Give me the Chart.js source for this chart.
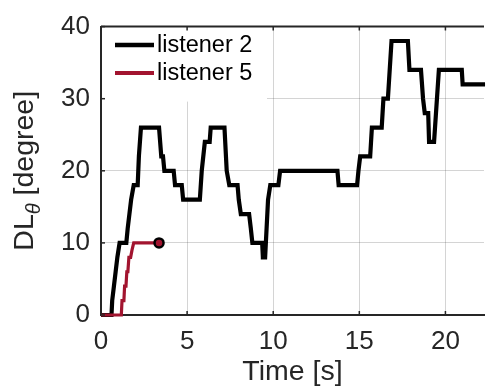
<!DOCTYPE html>
<html>
<head>
<meta charset="utf-8">
<script src="https://cdn.jsdelivr.net/npm/chart.js@4/dist/chart.umd.min.js"></script>
<style>
  html, body { margin: 0; padding: 0; background: #fff; overflow: hidden; }
  #wrap { width: 491px; height: 389px; position: relative; }
</style>
</head>
<body>
<div id="wrap"><canvas id="c" width="491" height="389"></canvas></div>
<script>
// ---- data ----
const seriesNames = ['listener 2', 'listener 5'];
const timeL2 = [0, 0.61, 0.65, 0.75, 0.85, 0.95, 1.08, 1.47, 1.55, 1.65, 1.75, 1.9, 2.13, 2.2, 2.32, 3.37, 3.5, 3.6, 3.68, 4.22, 4.3, 4.69, 4.77, 5.74, 5.85, 6.03, 6.31, 6.37, 7.17, 7.3, 7.45, 7.93, 8.0, 8.12, 8.6, 8.7, 8.79, 9.36, 9.4, 9.53, 9.7, 9.83, 10.3, 10.4, 13.73, 13.8, 14.87, 14.95, 15.05, 15.63, 15.73, 16.3, 16.4, 16.66, 16.87, 17.82, 17.91, 18.58, 18.7, 18.8, 19.0, 19.05, 19.34, 19.62, 20.95, 21.0, 22.3];
const valL2  = [0, 0, 2, 4, 6, 8, 10, 10, 12, 14, 16, 18, 18, 22, 26, 26, 22, 22, 20, 20, 18, 18, 16, 16, 20, 24, 24, 26, 26, 20, 18, 18, 16, 14, 14, 12, 10, 10, 8, 8, 16, 18, 18, 20, 20, 18, 18, 20, 22, 22, 26, 26, 30, 30, 38, 38, 34, 34, 30, 28, 28, 24, 24, 34, 34, 32, 32];
const timeL5 = [0, 1.18, 1.22, 1.33, 1.37, 1.45, 1.5, 1.56, 1.62, 1.72, 1.8, 1.9, 3.37];
const valL5  = [0, 0, 2, 2, 4, 4, 6, 6, 8, 8, 9, 10, 10];
const xTicks = [0, 5, 10, 15, 20];
const yTicks = [0, 10, 20, 30, 40];

const FONT = "'Liberation Sans', Arial, Helvetica, sans-serif";
const AX = '#262626';
const BLACK = '#000000';
const RED = '#a2142f';

const l2 = timeL2.map((t, i) => ({ x: t, y: valL2[i] }));
const l5 = timeL5.map((t, i) => ({ x: t, y: valL5[i] }));
const l5radius = l5.map((p, i) => i === l5.length - 1 ? 4.5 : 0);

const framePlugin = {
  id: 'frame',
  beforeDatasetsDraw(chart) {
    const { ctx, chartArea: a } = chart;
    ctx.save();
    ctx.fillStyle = '#ffffff';
    ctx.fillRect(a.left + 1, a.top, 165, 75);
    ctx.restore();
  },
  afterDatasetsDraw(chart) {
    const { ctx, chartArea: a, scales } = chart;
    ctx.save();
    ctx.strokeStyle = AX;
    ctx.lineWidth = 2;
    ctx.beginPath();
    ctx.moveTo(a.left, a.top);
    ctx.lineTo(a.right, a.top);
    ctx.stroke();
    ctx.lineWidth = 1.5;
    const tl = 4;
    xTicks.forEach(v => {
      const px = scales.x.getPixelForValue(v);
      ctx.beginPath();
      ctx.moveTo(px, a.bottom); ctx.lineTo(px, a.bottom - tl);
      ctx.moveTo(px, a.top); ctx.lineTo(px, a.top + tl);
      ctx.stroke();
    });
    yTicks.forEach(v => {
      const py = scales.y.getPixelForValue(v);
      ctx.beginPath();
      ctx.moveTo(a.left, py); ctx.lineTo(a.left + tl, py);
      ctx.stroke();
    });
    const rows = [
      { name: seriesNames[0], color: BLACK, w: 4.5, y: 45 },
      { name: seriesNames[1], color: RED, w: 4, y: 73 }
    ];
    ctx.font = '23.5px ' + FONT;
    ctx.textBaseline = 'middle';
    ctx.textAlign = 'left';
    rows.forEach(r => {
      ctx.strokeStyle = r.color;
      ctx.lineWidth = r.w;
      ctx.beginPath();
      ctx.moveTo(a.left + 14, r.y);
      ctx.lineTo(a.left + 53, r.y);
      ctx.stroke();
      ctx.fillStyle = '#000';
      ctx.fillText(r.name, a.left + 56, r.y + 1);
    });
    ctx.restore();
  },
  afterDraw(chart) {
    const { ctx, chartArea: a } = chart;
    ctx.save();
    ctx.fillStyle = AX;
    const cy = (a.top + a.bottom) / 2;
    ctx.translate(33, cy);
    ctx.rotate(-Math.PI / 2);
    ctx.textBaseline = 'alphabetic';
    ctx.textAlign = 'left';
    const big = '28.5px ' + FONT;
    const small = 'italic 20px ' + FONT;
    ctx.font = big;
    const w1 = ctx.measureText('DL').width;
    const w3 = ctx.measureText(' [degree]').width;
    ctx.font = small;
    const w2 = ctx.measureText('\u03B8').width;
    const total = w1 + w2 + w3;
    let x = -total / 2;
    ctx.font = big;
    ctx.fillText('DL', x, 0);
    x += w1;
    ctx.font = small;
    ctx.fillText('\u03B8', x, 7);
    x += w2;
    ctx.font = big;
    ctx.fillText(' [degree]', x, 0);
    ctx.restore();
  }
};

new Chart(document.getElementById('c'), {
  type: 'line',
  data: {
    datasets: [
      {
        label: seriesNames[1], data: l5, borderColor: RED, backgroundColor: RED,
        borderWidth: 3.2, pointRadius: l5radius, pointBackgroundColor: RED,
        pointBorderColor: '#000', pointBorderWidth: 2.5, tension: 0, clip: false, order: 0
      },
      {
        label: seriesNames[0], data: l2, borderColor: BLACK, backgroundColor: BLACK,
        borderWidth: 4.2, pointRadius: 0, tension: 0, clip: false, order: 1,
        borderJoinStyle: 'miter'
      }
    ]
  },
  options: {
    responsive: false,
    animation: false,
    events: [],
    layout: { padding: { top: 18, right: 0, left: 0, bottom: 0 } },
    plugins: { legend: { display: false }, tooltip: { enabled: false } },
    scales: {
      x: {
        type: 'linear', min: 0, max: 22.24,
        afterBuildTicks(s) { s.ticks = xTicks.map(v => ({ value: v })); },
        afterFit(s) { s.height = 74; },
        ticks: { font: { family: FONT, size: 26 }, color: AX, padding: 11, maxRotation: 0 },
        grid: { color: 'rgba(38,38,38,0.2)', lineWidth: 1, drawTicks: false },
        border: { color: AX, width: 2 },
        title: { display: true, text: 'Time [s]', font: { family: FONT, size: 28.5 }, color: AX, padding: { top: 0, bottom: 0 } }
      },
      y: {
        type: 'linear', min: 0, max: 40,
        afterBuildTicks(s) { s.ticks = yTicks.map(v => ({ value: v })); },
        afterFit(s) { s.width = 101; },
        ticks: { font: { family: FONT, size: 26 }, color: AX, padding: 11 },
        grid: { color: 'rgba(38,38,38,0.2)', lineWidth: 1, drawTicks: false },
        border: { color: AX, width: 2 }
      }
    }
  },
  plugins: [framePlugin]
});
</script>
</body>
</html>
